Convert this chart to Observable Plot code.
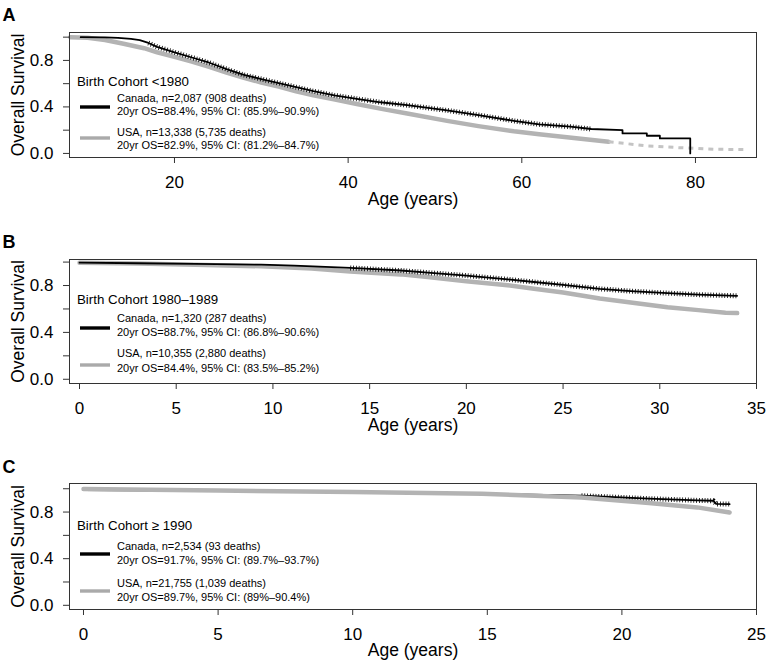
<!DOCTYPE html>
<html>
<head>
<meta charset="utf-8">
<script src="https://cdn.jsdelivr.net/npm/d3@7"></script>
<script src="https://cdn.jsdelivr.net/npm/@observablehq/plot@0.6"></script>
<style>
  html, body { margin: 0; padding: 0; background: #fff; }
  #chart { width: 767px; height: 668px; overflow: hidden; }
  #chart svg { display: block; }
</style>
</head>
<body>
<div id="chart"></div>
<script>
// ---------- data (age in years, overall survival) ----------
const canadaA = [[9.2,1.0],[12,0.998],[13.5,0.993],[15,0.985],[16,0.975],[17,0.95],[18,0.917],[20,0.87],[22,0.825],[24,0.78],[26,0.725],[28,0.675],[30,0.64],[32,0.605],[34,0.57],[36,0.535],[38.4,0.50],[41,0.47],[43.7,0.44],[46.8,0.415],[51.4,0.37],[55,0.33],[59.1,0.28],[62,0.25],[65.6,0.23],[68,0.21],[71.6,0.20],[71.6,0.172],[74.4,0.172],[74.4,0.152],[75.9,0.152],[75.9,0.129],[79.4,0.129],[79.4,0.0]];
const usaA = [[8.0,1.0],[10,0.995],[12,0.975],[14,0.945],[16.5,0.905],[18,0.87],[20,0.83],[22,0.79],[24,0.745],[26,0.695],[28,0.65],[30,0.61],[32,0.575],[34,0.535],[36,0.50],[38.5,0.463],[41,0.425],[43.7,0.385],[46.8,0.344],[51.4,0.28],[55,0.235],[59.1,0.19],[62,0.165],[66.8,0.126],[70,0.10],[74.5,0.065],[78,0.05],[82.2,0.036],[85.9,0.033]];

const canadaB = [[0,0.995],[3,0.99],[6,0.985],[9.4,0.978],[11.1,0.97],[14,0.95],[16.6,0.928],[18,0.91],[20,0.885],[22,0.855],[23.5,0.83],[25,0.805],[26.9,0.772],[28.5,0.752],[30.4,0.735],[32,0.722],[34,0.712]];
const usaB = [[0,0.995],[3,0.987],[6,0.978],[9.4,0.964],[12,0.945],[14,0.92],[16.6,0.895],[18,0.872],[20,0.837],[22,0.805],[23.5,0.772],[25,0.74],[26.9,0.69],[28.5,0.655],[30.4,0.615],[32,0.59],[33.4,0.568],[34,0.565]];

const canadaC = [[0,0.988],[5,0.982],[10,0.972],[14.8,0.958],[18.5,0.94],[21,0.915],[22.8,0.90],[23.4,0.897],[23.5,0.87],[24,0.868]];
const usaC = [[0,0.998],[5,0.985],[10,0.972],[14.8,0.957],[18.5,0.925],[21,0.878],[22.8,0.84],[24,0.797]];

const ageTicksA = [20, 40, 60, 80];
const ageTicksB = [0, 5, 10, 15, 20, 25, 30, 35];
const ageTicksC = [0, 5, 10, 15, 20, 25];
const yTicks = [0, 0.2, 0.4, 0.6, 0.8, 1.0];
const yTickLabels = ["0.0", "", "0.4", "", "0.8", ""];

const panelLetters = ["A", "B", "C"];
const cohortTitles = ["Birth Cohort <1980", "Birth Cohort 1980\u20131989", "Birth Cohort \u2265 1990"];
const canadaLabels = [
  ["Canada, n=2,087 (908 deaths)", "20yr OS=88.4%, 95% CI: (85.9%\u201390.9%)"],
  ["Canada, n=1,320 (287 deaths)", "20yr OS=88.7%, 95% CI: (86.8%\u201390.6%)"],
  ["Canada, n=2,534 (93 deaths)", "20yr OS=91.7%, 95% CI: (89.7%\u201393.7%)"]
];
const usaLabels = [
  ["USA, n=13,338 (5,735 deaths)", "20yr OS=82.9%, 95% CI: (81.2%\u201384.7%)"],
  ["USA, n=10,355 (2,880 deaths)", "20yr OS=84.4%, 95% CI: (83.5%\u201385.2%)"],
  ["USA, n=21,755 (1,039 deaths)", "20yr OS=89.7%, 95% CI: (89%\u201390.4%)"]
];
const xTitle = "Age (years)";
const yTitle = "Overall Survival";

// ---------- styling ----------
const FONT = '"Liberation Sans", Arial, Helvetica, sans-serif';
const BLACK = "#000";
const GRAY = "#b3b3b3";
const GRAY_LIGHT = "#c4c4c4";
const yLabelMap = new Map(yTicks.map((t, i) => [t, yTickLabels[i]]));
const toObj = arr => arr.map(([age, s]) => ({age, s}));

function makePanel(cfg) {
  const can = toObj(cfg.canada);
  const usa = toObj(cfg.usa);
  const grayMarks = [
    Plot.line(cfg.usaDashFrom ? usa.filter(d => d.age <= cfg.usaDashFrom) : usa,
      {x: "age", y: "s", stroke: GRAY, strokeWidth: 4.5})
  ];
  if (cfg.usaDashFrom) {
    grayMarks.push(Plot.line(usa.filter(d => d.age >= cfg.usaDashFrom),
      {x: "age", y: "s", stroke: GRAY_LIGHT, strokeWidth: 3, strokeDasharray: "5 5", strokeLinecap: "butt"}));
  }
  const blackMarks = [
    Plot.line(can, {x: "age", y: "s", stroke: BLACK, strokeWidth: 1.8}),
    Plot.line(can.filter(d => d.age >= cfg.tickFrom && d.age <= cfg.tickTo),
      {x: "age", y: "s", stroke: BLACK, strokeWidth: 5, strokeDasharray: "0.8 2", strokeLinecap: "butt"})
  ];
  const curves = cfg.grayOnTop ? [...blackMarks, ...grayMarks] : [...grayMarks, ...blackMarks];

  const svg = Plot.plot({
    width: 767,
    height: cfg.height,
    marginLeft: 69,
    marginRight: 11,
    marginTop: cfg.marginTop,
    marginBottom: cfg.marginBottom,
    x: {domain: cfg.xDomain},
    y: {domain: cfg.yDomain},
    style: {fontFamily: FONT, fontSize: "17px", color: "#000", background: "#fff", overflow: "visible"},
    marks: [
      ...curves,
      Plot.frame({stroke: "#333", strokeWidth: 1}),
      Plot.axisY(yTicks, {tickSize: 6, tickPadding: 10, tickFormat: d => yLabelMap.get(d), label: null, fontSize: 17, stroke: "#333"}),
      Plot.axisX(cfg.xTicks, {tickSize: 6, tickPadding: 12, label: null, fontSize: 17, stroke: "#333"}),
      Plot.text([xTitle], {text: d => d, frameAnchor: "bottom", textAnchor: "middle", lineAnchor: "bottom", dy: cfg.xTitleDy, fontSize: 17.5}),
      Plot.text([yTitle], {text: d => d, frameAnchor: "left", textAnchor: "middle", lineAnchor: "bottom", rotate: -90, dx: -46, fontSize: 17.5}),
      Plot.text([cfg.letter], {text: d => d, frameAnchor: "top-left", textAnchor: "start", lineAnchor: "bottom", dx: -67, dy: cfg.letterDy, fontSize: 18, fontWeight: "bold"})
    ]
  });

  // in-plot legend
  const L = cfg.legend;
  const g = d3.select(svg).append("g").attr("font-family", FONT).attr("fill", "#000").attr("text-anchor", "start");
  g.append("text").attr("x", 77).attr("y", L.title).attr("font-size", 13.3).text(cfg.cohort);
  const entries = [
    {lines: cfg.canadaText, ys: L.canada, sw: L.black, color: BLACK},
    {lines: cfg.usaText, ys: L.usa, sw: L.gray, color: "#aaa"}
  ];
  for (const e of entries) {
    g.append("line").attr("x1", 80).attr("x2", 110).attr("y1", e.sw).attr("y2", e.sw)
      .attr("stroke", e.color).attr("stroke-width", 3.4);
    e.lines.forEach((t, i) => {
      g.append("text").attr("x", 117).attr("y", e.ys[i]).attr("font-size", 11).text(t);
    });
  }
  return svg;
}

const chart = document.getElementById("chart");
const yDomains = [[-0.035, 1.04], [-0.036, 1.022], [-0.036, 1.045]];

chart.appendChild(makePanel({
  letter: panelLetters[0], cohort: cohortTitles[0], canadaText: canadaLabels[0], usaText: usaLabels[0],
  canada: canadaA, usa: usaA, xTicks: ageTicksA, xDomain: [7.91, 87.03], yDomain: yDomains[0],
  height: 226, marginTop: 32, marginBottom: 69, xTitleDy: 47, letterDy: -12,
  tickFrom: 17, tickTo: 71, usaDashFrom: 70, grayOnTop: false,
  legend: {title: 86, canada: [102, 115], black: 107, usa: [136, 149], gray: 138}
}));
chart.appendChild(makePanel({
  letter: panelLetters[1], cohort: cohortTitles[1], canadaText: canadaLabels[1], usaText: usaLabels[1],
  canada: canadaB, usa: usaB, xTicks: ageTicksB, xDomain: [-0.517, 35], yDomain: yDomains[1],
  height: 225, marginTop: 33, marginBottom: 68, xTitleDy: 47, letterDy: -12,
  tickFrom: 14, tickTo: 40, usaDashFrom: null, grayOnTop: false,
  legend: {title: 78, canada: [96, 110], black: 102, usa: [131, 146], gray: 139}
}));
chart.appendChild(makePanel({
  letter: panelLetters[2], cohort: cohortTitles[2], canadaText: canadaLabels[2], usaText: usaLabels[2],
  canada: canadaC, usa: usaC, xTicks: ageTicksC, xDomain: [-0.52, 25], yDomain: yDomains[2],
  height: 217, marginTop: 32, marginBottom: 59, xTitleDy: 46, letterDy: -11,
  tickFrom: 18, tickTo: 40, usaDashFrom: null, grayOnTop: true,
  legend: {title: 79, canada: [99, 113], black: 103, usa: [136, 150], gray: 140}
}));
</script>
</body>
</html>
